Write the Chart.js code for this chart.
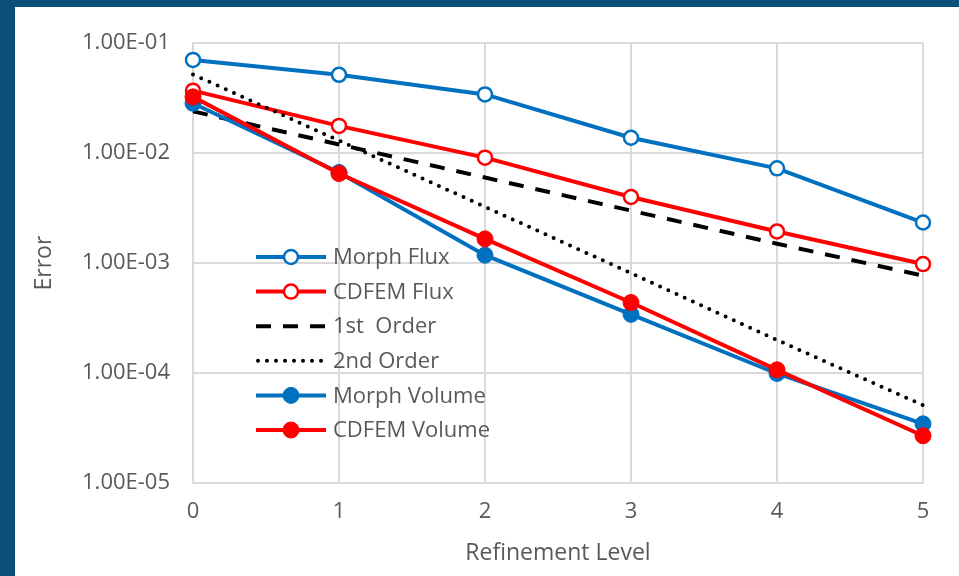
<!DOCTYPE html>
<html>
<head>
<meta charset="utf-8">
<script src="https://cdn.jsdelivr.net/npm/chart.js@4.4.1/dist/chart.umd.min.js"></script>
<style>
  body { margin: 0; background: #0b5078; width: 959px; height: 576px; overflow: hidden; }
  #frame { position: absolute; left: 15px; top: 7px; width: 944px; height: 569px; background: #fff; }
</style>
</head>
<body>
<div id="frame"><canvas id="chart" width="944" height="569"></canvas></div>
<script>
const levels = ['0', '1', '2', '3', '4', '5'];
const morphFlux = [0.0705, 0.0516, 0.0342, 0.0138, 0.00727, 0.00234];
const cdfemFlux = [0.037, 0.0177, 0.0091, 0.00399, 0.00194, 0.00098];
const firstOrder = [0.024, 0.012, 0.006, 0.003, 0.0015, 0.00077];
const secondOrder = [0.052, 0.013, 0.00325, 0.00081, 0.0002, 0.000051];
const morphVolume = [0.0284, 0.00668, 0.00118, 0.000342, 0.0000991, 0.0000345];
const cdfemVolume = [0.0325, 0.00652, 0.00166, 0.000438, 0.000107, 0.0000269];
const yTicks = [1e-5, 1e-4, 1e-3, 1e-2, 1e-1];
const yTickLabels = ['1.00E-05', '1.00E-04', '1.00E-03', '1.00E-02', '1.00E-01'];

const BLUE = '#0070c0';
const RED = '#ff0000';
const GREY = '#595959';
const FONT = '"Open Sans", sans-serif';

function series(label, data, color, kind, order) {
  let ds = {
    label: label,
    data: data,
    borderColor: color,
    borderWidth: 4,
    order: order,
    pointRadius: 0,
    kind: kind
  };
  if (kind == 'open') {
    ds.pointRadius = 7;
    ds.pointBorderWidth = 2.5;
    ds.pointBackgroundColor = '#ffffff';
    ds.pointBorderColor = color;
  } else if (kind == 'filled') {
    ds.pointRadius = 8;
    ds.pointBorderWidth = 1;
    ds.pointBackgroundColor = color;
    ds.pointBorderColor = color;
  } else if (kind == 'dash') {
    ds.borderDash = [15, 12];
  } else if (kind == 'dot') {
    ds.borderDash = [0, 9];
    ds.borderCapStyle = 'round';
  }
  return ds;
}

let datasets = [
  series('Morph Flux', morphFlux, BLUE, 'open', 6),
  series('CDFEM Flux', cdfemFlux, RED, 'open', 5),
  series('1st  Order', firstOrder, '#000000', 'dash', 4),
  series('2nd Order', secondOrder, '#000000', 'dot', 3),
  series('Morph Volume', morphVolume, BLUE, 'filled', 2),
  series('CDFEM Volume', cdfemVolume, RED, 'filled', 1)
];

// legend drawn inside the plot, lower left
const insideLegend = {
  id: 'insideLegend',
  afterDraw(chart) {
    let ctx = chart.ctx;
    ctx.save();
    chart.data.datasets.forEach((ds, i) => {
      let y = 250 + i * 34.6;
      ctx.strokeStyle = ds.borderColor;
      ctx.lineWidth = ds.borderWidth;
      ctx.lineCap = ds.borderCapStyle || 'butt';
      ctx.setLineDash(ds.borderDash || []);
      ctx.beginPath();
      if (ds.kind == 'dot') {
        ctx.moveTo(243, y);
        ctx.lineTo(312, y);
      } else {
        ctx.moveTo(241, y);
        ctx.lineTo(311, y);
      }
      ctx.stroke();
      ctx.setLineDash([]);
      if (ds.pointRadius > 0) {
        ctx.beginPath();
        ctx.arc(276, y, ds.pointRadius, 0, Math.PI * 2);
        ctx.fillStyle = ds.pointBackgroundColor;
        ctx.fill();
        ctx.lineWidth = ds.pointBorderWidth;
        ctx.strokeStyle = ds.pointBorderColor;
        ctx.stroke();
      }
      ctx.fillStyle = GREY;
      ctx.font = '22px ' + FONT;
      ctx.textBaseline = 'middle';
      ctx.textAlign = 'left';
      ctx.fillText(ds.label, 318, y + 1);
    });
    ctx.restore();
  }
};

let ctx = document.getElementById('chart').getContext('2d');
let myChart = new Chart(ctx, {
  type: 'line',
  data: { labels: levels, datasets: datasets },
  plugins: [insideLegend],
  options: {
    responsive: false,
    animation: false,
    devicePixelRatio: 1,
    layout: { padding: { top: 30, right: 36, left: 0, bottom: 0 } },
    plugins: { legend: { display: false }, tooltip: { enabled: false } },
    scales: {
      x: {
        offset: false,
        grid: { color: '#d9d9d9', lineWidth: 2, drawTicks: false },
        border: { color: '#d9d9d9', width: 2 },
        ticks: { color: GREY, font: { family: FONT, size: 22 }, padding: 16 },
        title: { display: true, text: 'Refinement Level', color: GREY, font: { family: FONT, size: 23 }, padding: { top: 4, bottom: 9 } },
        afterFit: s => { s.height = 93; }
      },
      y: {
        type: 'logarithmic',
        min: 1e-5,
        max: 1e-1,
        grid: { color: '#d9d9d9', lineWidth: 2, drawTicks: false },
        border: { color: '#d9d9d9', width: 2 },
        afterBuildTicks: s => { s.ticks = yTicks.map(v => ({ value: v, major: false })); },
        ticks: {
          color: GREY,
          font: { family: FONT, size: 22 },
          padding: 23,
          callback: (v, i) => yTickLabels[i]
        },
        title: { display: true, text: 'Error', color: GREY, font: { family: FONT, size: 23 }, padding: { top: 16 } },
        afterFit: s => { s.width = 178; }
      }
    }
  }
});
</script>
</body>
</html>
